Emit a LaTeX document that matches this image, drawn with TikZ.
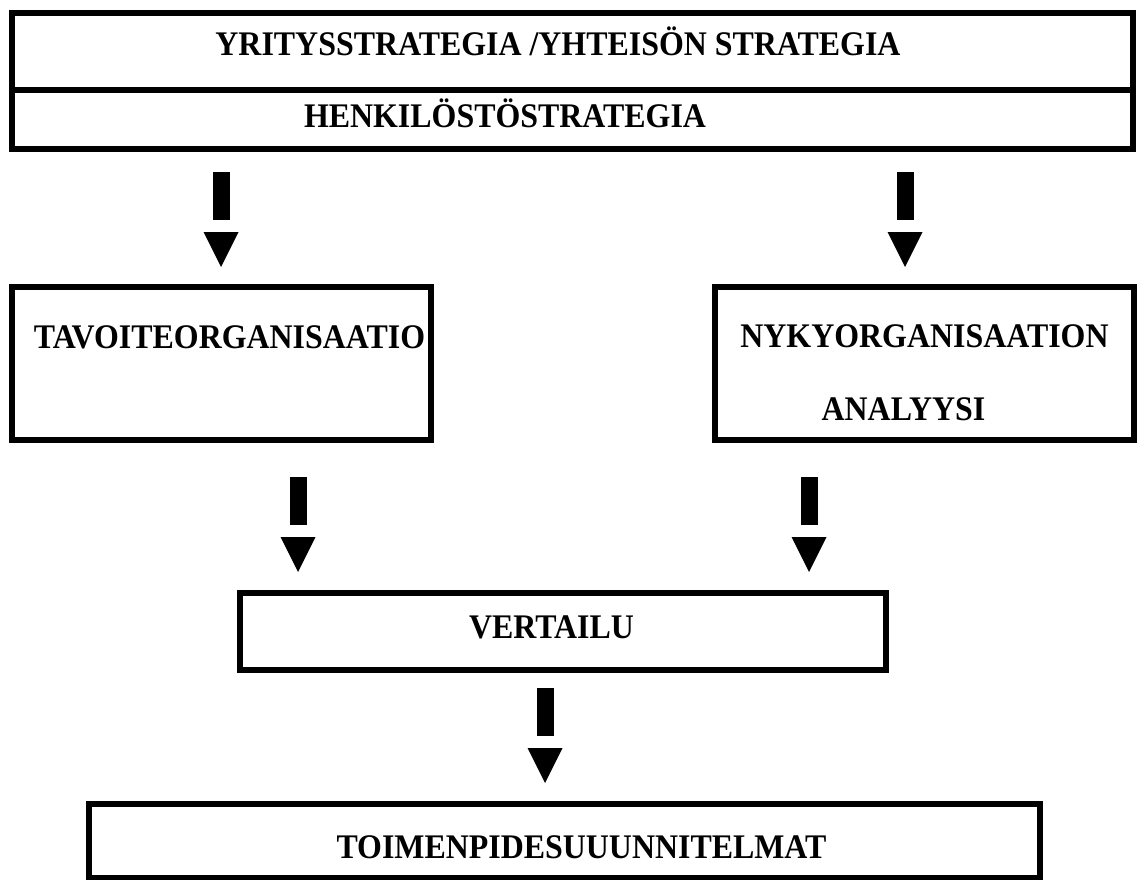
\documentclass[tikz,border=0pt]{standalone}
\usepackage{fontspec}
\setmainfont{Liberation Serif}
\newfontfamily\narrowserif[FakeStretch=0.925]{Liberation Serif}
\begin{document}
\begin{tikzpicture}[x=1pt,y=-1pt,
  box/.style={draw=black,line width=6pt,inner sep=0pt,fill=none},
  lbl/.style={inner sep=0pt,anchor=base,font=\narrowserif\fontsize{34.5}{40}\selectfont\bfseries},
  blockarrow/.pic={
    \fill[black] (-8.5,0) rectangle (8.5,48);
    \fill[black] (-17.5,60) -- (17.5,60) -- (0,95) -- cycle;
  }]
\useasboundingbox (0,0) rectangle (1143,880);
% boxes
\node[box,minimum width=1121pt,minimum height=77pt] (top1) at (572.5,51.5) {};
\node[box,minimum width=1121pt,minimum height=59pt] (top2) at (572.5,119.5) {};
\node[box,minimum width=419pt,minimum height=153pt] (goal) at (221.5,363.5) {};
\node[box,minimum width=419pt,minimum height=153pt] (now) at (924.5,363.5) {};
\node[box,minimum width=646pt,minimum height=77pt] (cmp) at (563,631.5) {};
\node[box,minimum width=951pt,minimum height=74pt] (act) at (564.5,841) {};
% texts
\node[lbl] (t1) at (558,56) {YRITYSSTRATEGIA /YHTEISÖN STRATEGIA};
\node[lbl] (t2) at (505,128) {HENKILÖSTÖSTRATEGIA};
\node[lbl] (t3) at (229.5,348) {TAVOITEORGANISAATIO};
\node[lbl] (t4) at (924.5,347) {NYKYORGANISAATION};
\node[lbl] (t5) at (903.5,420) {ANALYYSI};
\node[lbl] (t6) at (551.5,638) {VERTAILU};
\node[lbl] (t7) at (581.5,858) {TOIMENPIDESUUUNNITELMAT};
% block arrows
\coordinate (a1) at (221,172);
\coordinate (a2) at (905,172);
\coordinate (a3) at (298,477);
\coordinate (a4) at (809,477);
\coordinate (a5) at (545,688);
\pic at (a1) {blockarrow};
\pic at (a2) {blockarrow};
\pic at (a3) {blockarrow};
\pic at (a4) {blockarrow};
\pic at (a5) {blockarrow};
\end{tikzpicture}
\end{document}
